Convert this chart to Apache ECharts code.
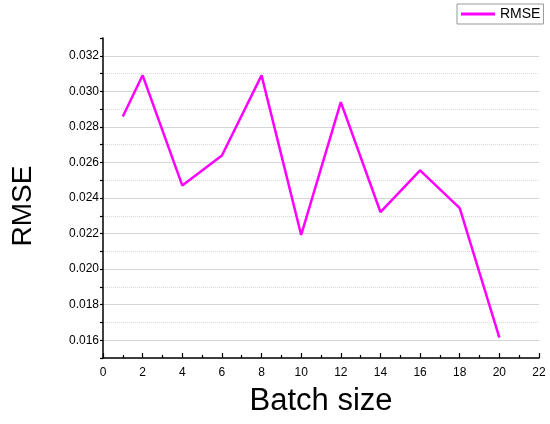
<!DOCTYPE html>
<html>
<head>
<meta charset="utf-8">
<script src="https://cdn.jsdelivr.net/npm/echarts@6/dist/echarts.min.js"></script>
<style>
  html, body { margin: 0; padding: 0; background: #fff; }
  #chart { width: 550px; height: 424px; }
</style>
</head>
<body>
<div id="chart"></div>
<script>
const batchSizes = [1, 2, 4, 6, 8, 10, 12, 14, 16, 18, 20];
const rmseValues = [0.02858, 0.03090, 0.02471, 0.02639, 0.03090, 0.02192, 0.02939, 0.02321, 0.02555, 0.02343, 0.01615];

const font = '"Liberation Sans", Arial, sans-serif';

let myChart = echarts.init(document.getElementById('chart'));
let option;

option = {
  animation: false,
  backgroundColor: '#fff',
  textStyle: { fontFamily: font },
  legend: {
    data: [{ name: 'RMSE', icon: 'rect' }],
    left: 457,
    top: 4,
    padding: [3, 3, 3, 4],
    borderColor: '#999',
    borderWidth: 1,
    itemWidth: 34,
    itemHeight: 3,
    itemGap: 4,
    textStyle: { fontSize: 14, color: '#000', fontFamily: font }
  },
  grid: {
    left: 103,
    top: 38,
    width: 436,
    height: 320
  },
  xAxis: {
    type: 'value',
    name: 'Batch size',
    nameLocation: 'middle',
    nameGap: 28,
    nameTextStyle: { fontSize: 31, color: '#000', fontFamily: font },
    min: 0,
    max: 22,
    interval: 2,
    axisLine: { show: true, lineStyle: { color: '#000', width: 1.5 } },
    axisTick: { show: true, inside: true, length: 5, lineStyle: { color: '#000', width: 1.2 } },
    minorTick: { show: true, splitNumber: 2, length: 3, lineStyle: { color: '#000', width: 1.2 } },
    axisLabel: { fontSize: 12, color: '#000', margin: 9, fontFamily: font },
    splitLine: { show: false }
  },
  yAxis: [
    {
      type: 'value',
      name: 'RMSE',
      nameLocation: 'middle',
      nameGap: 66,
      nameTextStyle: { fontSize: 28, color: '#000', fontFamily: font, padding: [0, 16, 0, 0] },
      min: 0.015,
      max: 0.033,
      interval: 0.001,
      axisLine: { show: true, lineStyle: { color: '#000', width: 1.5 } },
      axisTick: { show: true, length: 3, lineStyle: { color: '#000', width: 1.2 } },
      axisLabel: {
        fontSize: 12,
        color: '#000',
        margin: 4,
        fontFamily: font,
        formatter: function (v) {
          return Math.round(v * 1000) % 2 === 0 ? v.toFixed(3) : '';
        }
      },
      splitLine: {
        show: true,
        showMaxLine: false,
        lineStyle: { type: 'dotted', width: 1, color: ['#d8d8d8', 'rgba(0,0,0,0)'] }
      }
    },
    {
      // solid grid lines at the labelled values
      type: 'value',
      min: 0.015,
      max: 0.033,
      splitNumber: 9,
      axisLine: { show: false },
      axisTick: { show: false },
      axisLabel: { show: false },
      splitLine: {
        show: true,
        showMinLine: false,
        showMaxLine: false,
        lineStyle: { color: '#d6d6d6', width: 1.2 }
      }
    }
  ],
  series: [
    {
      name: 'RMSE',
      type: 'line',
      yAxisIndex: 0,
      symbol: 'none',
      data: batchSizes.map((b, i) => [b, rmseValues[i]]),
      lineStyle: { color: '#ff00ff', width: 2.5 },
      itemStyle: { color: '#ff00ff' },
      z: 5
    }
  ]
};

option && myChart.setOption(option);
</script>
</body>
</html>
